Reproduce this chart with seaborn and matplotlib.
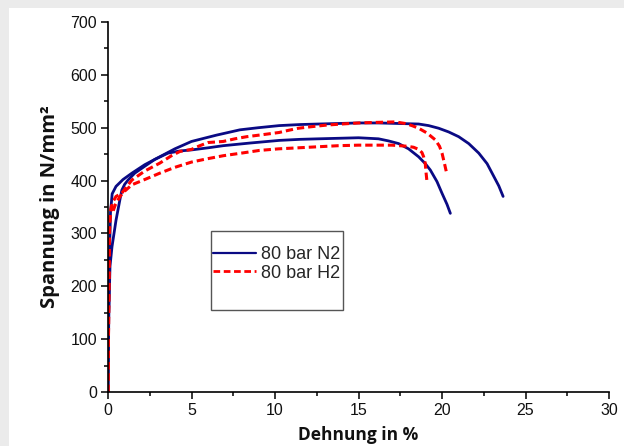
import matplotlib
matplotlib.use("Agg")
import matplotlib.pyplot as plt
import seaborn as sns
import pandas as pd
from matplotlib.patches import Rectangle
from matplotlib.lines import Line2D
from matplotlib.ticker import MultipleLocator

# ---- data ----
n2_a_x = [0, 0.03, 0.08, 0.15, 0.25, 0.48, 0.9, 1.43, 2.2, 3.1, 4.0, 5.0, 6.5, 7.9, 9.0, 10.25, 11.5, 12.6, 13.8, 15.0, 16.2, 17.4, 18.6, 19.2, 19.8, 20.4, 21.0, 21.6, 22.2, 22.7, 23.1, 23.4, 23.66]
n2_a_y = [0, 120, 250, 340, 375, 389, 402, 414, 430, 445, 460, 474, 486, 496, 500, 504, 506, 507, 508, 509, 509, 508, 507, 504, 499, 492, 483, 470, 452, 432, 408, 390, 370]

n2_b_x = [0, 0.05, 0.12, 0.24, 0.36, 0.48, 0.6, 0.72, 0.83, 1.0, 1.2, 1.6, 2.15, 2.8, 3.6, 4.3, 5.0, 6.0, 6.9, 8.5, 10.25, 11.5, 12.6, 13.8, 15.0, 15.6, 16.2, 16.8, 17.4, 18.0, 18.6, 19.0, 19.3, 19.7, 20.0, 20.3, 20.5]
n2_b_y = [0, 150, 238, 275, 300, 325, 345, 365, 382, 393, 401, 414, 426, 440, 452, 456, 458, 462, 466, 471, 476, 478, 479, 480, 481, 480, 479, 475, 470, 460, 445, 432, 420, 398, 376, 355, 338]

h2_a_x = [0, 0.04, 0.08, 0.12, 0.3, 0.48, 0.82, 1.43, 2.2, 3.1, 3.8, 4.3, 5.0, 5.5, 6.0, 6.9, 7.6, 8.3, 9.3, 10.25, 10.8, 11.4, 12.2, 13.1, 14.0, 15.0, 16.0, 17.2, 17.8, 18.2, 18.6, 19.1, 19.6, 19.85, 20.0, 20.15, 20.3]
h2_a_y = [0, 150, 300, 338, 360, 370, 376, 401, 418, 433, 447, 455, 459, 466, 472, 474, 479, 483, 487, 491, 495, 499, 502, 505, 507, 509, 510, 511, 508, 504, 499, 490, 477, 465, 452, 432, 411]

h2_b_x = [0, 0.04, 0.1, 0.2, 0.3, 0.45, 0.72, 1.0, 1.43, 2.2, 3.1, 4.0, 5.0, 5.9, 6.9, 8.0, 9.06, 10.2, 11.4, 12.6, 13.8, 15.0, 16.2, 17.0, 17.9, 18.3, 18.6, 18.8, 18.9, 19.0, 19.03, 19.1]
h2_b_y = [0, 150, 320, 352, 342, 355, 370, 380, 392, 402, 414, 425, 435, 441, 447, 452, 457, 460, 462, 464, 466, 467, 467, 467, 465, 463, 459, 453, 445, 432, 420, 398]

series_labels = ["80 bar N2", "80 bar H2"]
x_ticks = [0, 5, 10, 15, 20, 25, 30]
y_ticks = [0, 100, 200, 300, 400, 500, 600, 700]

# ---- style ----
sns.set_theme(style="white")
plt.rcParams["font.family"] = ["Liberation Sans", "DejaVu Sans"]

BLUE = "#0a0a84"
RED = "#ff0000"
LW_BLUE = 2.0
LW_RED = 2.2
DASH = (2.4, 1.3)

fig = plt.figure(figsize=(6.24, 4.46), dpi=100)
fig.patch.set_facecolor("#ebebeb")

# white panel behind everything
bg = fig.add_axes([0, 0, 1, 1], zorder=-10)
bg.set_axis_off()
bg.set_xlim(0, 1)
bg.set_ylim(0, 1)
bg.add_patch(Rectangle((9 / 624, 0), 1, 1 - 8 / 446, facecolor="white", edgecolor="none"))

ax = fig.add_axes([108 / 624, 54 / 446, 501 / 624, 370 / 446], zorder=1)
ax.set_facecolor("none")

curves = [
    (n2_a_x, n2_a_y, BLUE, "-"),
    (n2_b_x, n2_b_y, BLUE, "-"),
    (h2_a_x, h2_a_y, RED, "--"),
    (h2_b_x, h2_b_y, RED, "--"),
]
for xs, ys, col, ls in curves:
    df = pd.DataFrame({"x": xs, "y": ys})
    line_ax = sns.lineplot(data=df, x="x", y="y", sort=False, estimator=None,
                           color=col, ax=ax, legend=False)
    ln = line_ax.lines[-1]
    if ls == "--":
        ln.set_linewidth(LW_RED)
        ln.set_dashes(DASH)
    else:
        ln.set_linewidth(LW_BLUE)

ax.set_xlim(0, 30)
ax.set_ylim(0, 700)
ax.set_xticks(x_ticks)
ax.set_yticks(y_ticks)
ax.xaxis.set_minor_locator(MultipleLocator(2.5))
ax.yaxis.set_minor_locator(MultipleLocator(50))

for s in ["top", "right"]:
    ax.spines[s].set_visible(False)
for s in ["left", "bottom"]:
    ax.spines[s].set_color("black")
    ax.spines[s].set_linewidth(1.2)

ax.tick_params(which="major", direction="out", length=5, width=1.1, color="black",
               labelsize=11.5, labelcolor="#111111", pad=3, left=True, bottom=True)
ax.tick_params(which="minor", direction="out", length=3, width=1.1, color="black",
               left=True, bottom=True)

ax.set_xlabel("Dehnung in %", labelpad=6, family=["Open Sans", "DejaVu Sans"],
              weight="bold", size=12.5, color="#111111")
ax.set_ylabel("Spannung in N/mm²", labelpad=7, family=["Open Sans", "DejaVu Sans"],
              weight="bold", size=14.5, color="#111111")

# legend box (larger than its contents, as in the reference)
ax.add_patch(Rectangle(((211 - 108) / 501, (392 - 310) / 370), (343 - 211) / 501, (310 - 231) / 370,
                       transform=ax.transAxes, facecolor="white", edgecolor="#555555",
                       linewidth=1.0, zorder=5))
handles = [Line2D([], [], color=BLUE, lw=1.6, ls="-"),
           Line2D([], [], color=RED, lw=2.0, ls=(0, DASH))]
leg = ax.legend(handles, series_labels, loc="upper left",
                bbox_to_anchor=((213 - 108) / 501, (392 - 246) / 370),
                frameon=False, fontsize=13, handlelength=2.4, handletextpad=0.25,
                labelspacing=0.1, borderpad=0.0, borderaxespad=0)
leg.set_zorder(6)

fig.savefig("out.png", dpi=100, facecolor=fig.get_facecolor())
